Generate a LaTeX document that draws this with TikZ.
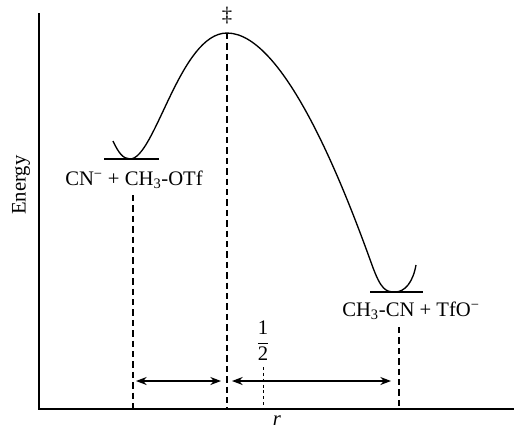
\documentclass[tikz,border=0pt]{standalone}
\usepackage{fontspec}
\setmainfont{Liberation Serif}
\usetikzlibrary{arrows.meta}
\begin{document}
\begin{tikzpicture}[x=0.75pt,y=-0.75pt,
  axis/.style={line width=1.1pt},
  curve/.style={line width=1pt},
  level/.style={line width=0.8pt},
  guide/.style={line width=0.8pt,dash pattern=on 4.8pt off 3pt},
  fineguide/.style={line width=0.7pt,dash pattern=on 2.2pt off 2.2pt},
  dist/.style={line width=0.9pt,{Stealth[length=8pt,width=6pt]}-{Stealth[length=8pt,width=6pt]}},
  lbl/.style={inner sep=0pt,font=\fontsize{15.5}{17}\selectfont}]
\useasboundingbox (0,0) rectangle (514,430);
% axes
\coordinate (otop) at (39,13);
\coordinate (orig) at (39,409);
\coordinate (xend) at (514,409);
\draw[axis] (otop) -- (orig) -- (xend);
\node[lbl,rotate=90] (energy) at (21,185) {Energy};
\node[lbl,anchor=base] (r) at (277,425) {\textit{r}};
% curve
\coordinate (lt) at (113,141);
\coordinate (lb) at (130,159);
\coordinate (pk) at (227,33);
\coordinate (rm) at (372,265);
\coordinate (rb) at (395,292);
\coordinate (rt) at (416,265);
\draw[curve] (lt) .. controls (118,152) and (123,159) .. (lb)
  .. controls (155,159) and (180,33) .. (pk)
  .. controls (285,33) and (345,190) .. (rm)
  .. controls (381,290) and (386,292) .. (rb)
  .. controls (405,292) and (413,282) .. (rt);
% levels
\coordinate (l1a) at (104,159); \coordinate (l1b) at (159,159);
\coordinate (l2a) at (370,292); \coordinate (l2b) at (423,292);
\draw[level] (l1a) -- (l1b);
\draw[level] (l2a) -- (l2b);
\node[lbl] (ts) at (227,16) {‡};
\node[lbl] (react) at (134,180) {CN\textsuperscript{−} + CH\textsubscript{3}-OTf};
\node[lbl] (prod) at (411,311) {CH\textsubscript{3}-CN + TfO\textsuperscript{−}};
% guides
\coordinate (g1t) at (133,195); \coordinate (g1b) at (133,409);
\coordinate (g2b) at (227,409);
\coordinate (g3t) at (263,367); \coordinate (g3b) at (263,409);
\coordinate (g4t) at (399,327); \coordinate (g4b) at (399,409);
\draw[guide] (g1t) -- (g1b);
\draw[guide] (pk) -- (g2b);
\draw[fineguide] (g3t) -- (g3b);
\draw[guide] (g4t) -- (g4b);
\node[lbl] (half) at (263,341) {$\displaystyle\frac{\mbox{1}}{\mbox{2}}$};
% distance arrows
\coordinate (a1) at (136,381); \coordinate (a2) at (221,381);
\coordinate (b1) at (232,381); \coordinate (b2) at (391,381);
\draw[dist] (a1) -- (a2);
\draw[dist] (b1) -- (b2);
\end{tikzpicture}
\end{document}
